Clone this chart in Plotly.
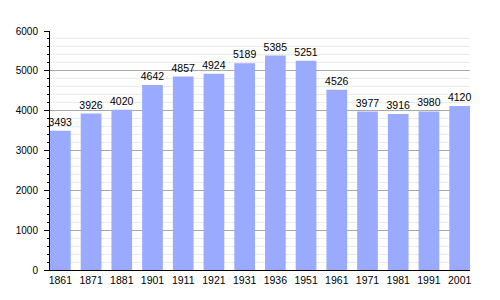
import plotly.graph_objects as go

years = ["1861", "1871", "1881", "1901", "1911", "1921", "1931", "1936", "1951", "1961", "1971", "1981", "1991", "2001"]
population = [3493, 3926, 4020, 4642, 4857, 4924, 5189, 5385, 5251, 4526, 3977, 3916, 3980, 4120]
y_ticks = [0, 1000, 2000, 3000, 4000, 5000, 6000]

bargap = 0.326
w = 1 - bargap

fig = go.Figure(go.Bar(
    x=years, y=population,
    marker=dict(color="rgb(153,170,255)", line=dict(width=0)),
    text=[str(v) for v in population],
    textposition="outside",
    constraintext="none",
    textfont=dict(family="Liberation Sans, Arial", size=10.5, color="black"),
    cliponaxis=False,
))

fig.update_layout(
    width=500, height=300,
    margin=dict(l=50, r=30, t=31, b=30),
    paper_bgcolor="white", plot_bgcolor="white",
    bargap=bargap,
    showlegend=False,
    font=dict(family="Liberation Sans, Arial", size=10, color="black"),
)
fig.update_xaxes(
    type="category", range=[-w / 2, len(years) - 1 + w / 2],
    showline=True, linecolor="black", linewidth=1,
    ticks="", showgrid=False, tickfont=dict(size=10.5),
)
fig.update_yaxes(
    range=[0, 6000], tickvals=y_ticks,
    showline=True, linecolor="black", linewidth=1,
    ticks="outside", ticklen=5, tickcolor="black",
    ticklabelstandoff=4,
    showgrid=True, gridcolor="#a8a8a8", gridwidth=1,
    minor=dict(dtick=200, showgrid=True, gridcolor="#ebebeb", ticks="outside", ticklen=2, tickcolor="black"),
    zeroline=False, tickfont=dict(size=10),
)

fig.write_html("out.html")
